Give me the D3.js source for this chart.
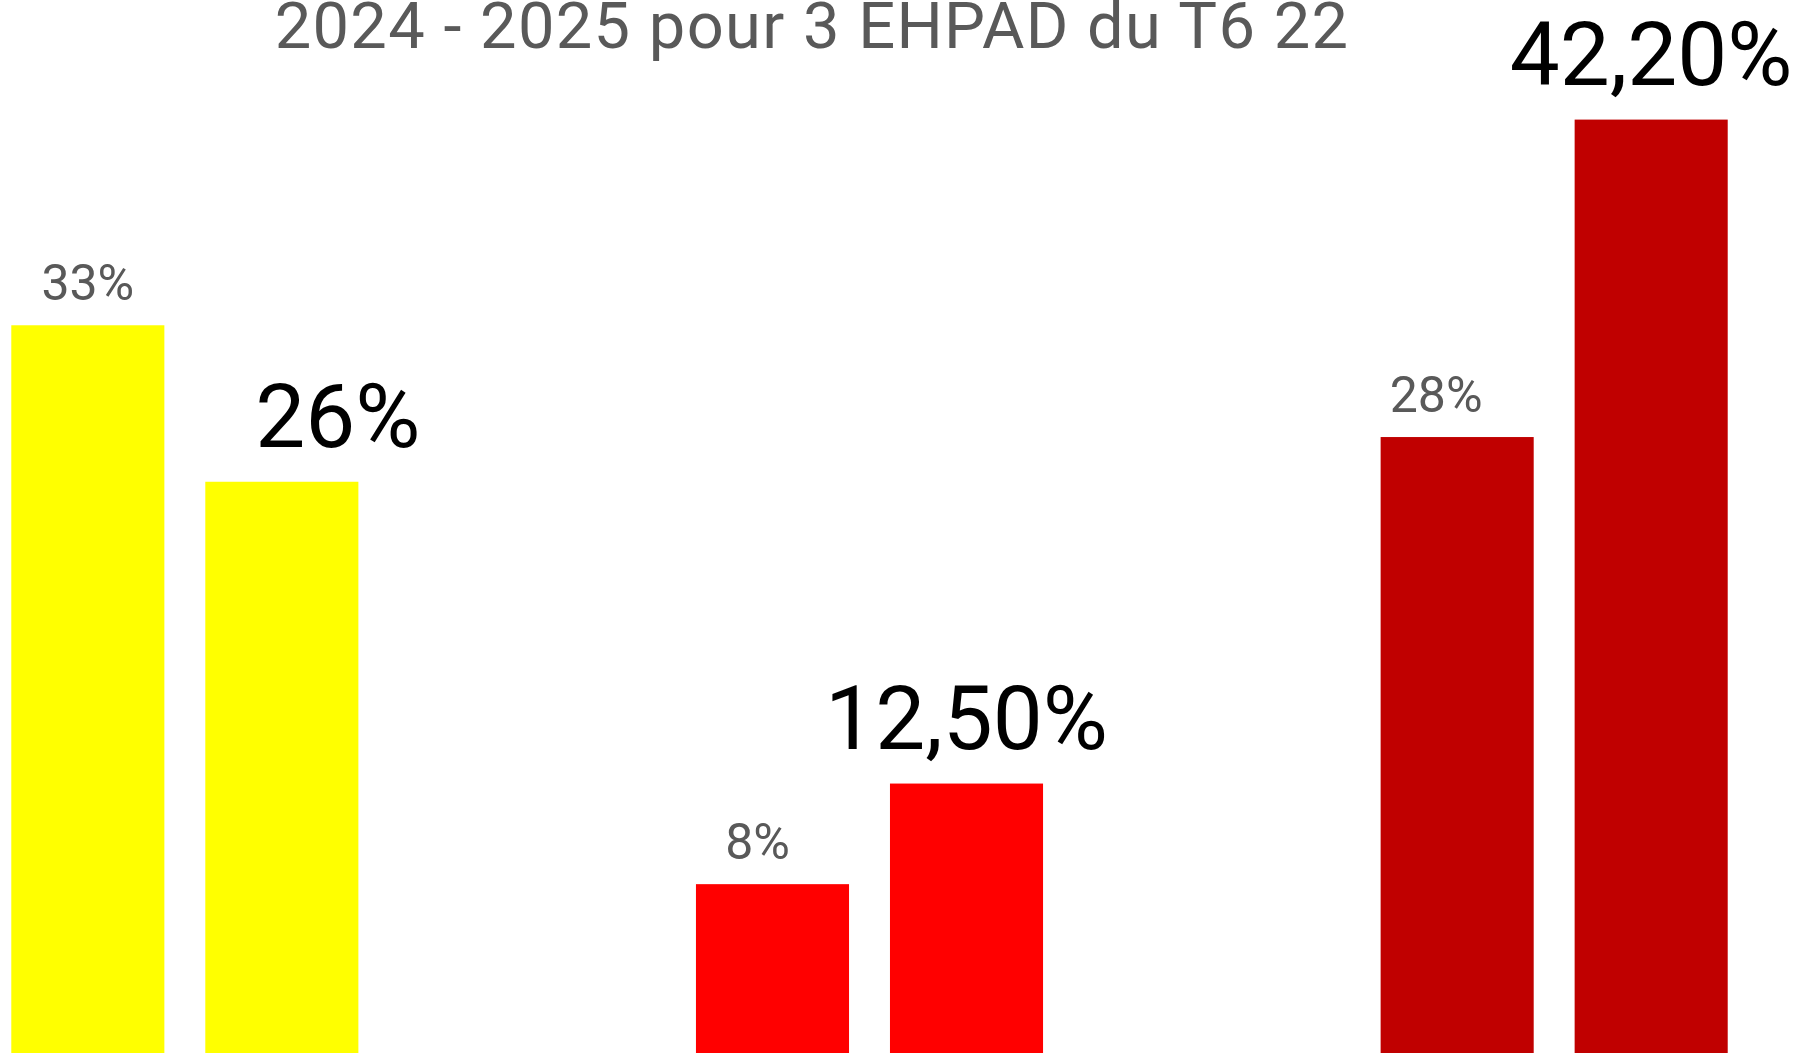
<!DOCTYPE html>
<html lang="fr">
<head>
<meta charset="utf-8">
<title>2024 - 2025 pour 3 EHPAD du T6 22</title>
<script src="https://d3js.org/d3.v7.min.js"></script>
<style>
  body { margin: 0; background: #fff; }
  svg { display: block; font-family: Roboto, "Open Sans", sans-serif; }
  .title { fill: #595959; font-size: 65px; letter-spacing: 1.3px; }
  .lab2024 { fill: #595959; font-size: 50px; }
  .lab2025 { fill: #000; font-size: 89px; }
</style>
</head>
<body>
<script>
// data
const ehpad = ["EHPAD 1", "EHPAD 2", "EHPAD 3"];
const years = ["2024", "2025"];
const values2024 = [33, 8, 28];
const values2025 = [26, 12.5, 42.2];
const labels2024 = ["33%", "8%", "28%"];
const labels2025 = ["26%", "12,50%", "42,20%"];
const ehpadColors = ["#FFFF00", "#FF0000", "#C00000"];
const titleText = "2024 - 2025 pour 3 EHPAD du T6 22";

const w = 1804, h = 1053;

// rows for the join
const rows = [];
ehpad.forEach((e, i) => {
  rows.push({ ehpad: e, year: "2024", value: values2024[i], label: labels2024[i], color: ehpadColors[i] });
  rows.push({ ehpad: e, year: "2025", value: values2025[i], label: labels2025[i], color: ehpadColors[i] });
});

// the picture is a crop of a wider chart, so the band range starts off-screen
const x0 = d3.scaleBand()
  .domain(ehpad)
  .range([-157.5, 1896.5]);

const x1 = d3.scaleBand()
  .domain(years)
  .range([0, x0.bandwidth()])
  .paddingInner(0.211)
  .paddingOuter(0.87);

const y = d3.scaleLinear()
  .domain([0, 45])
  .range([1063, 57]);

const svg = d3.select("body").append("svg")
  .attr("width", w)
  .attr("height", h);

// bars
svg.selectAll(".bar")
  .data(rows)
  .join("rect")
  .attr("class", "bar")
  .attr("x", d => x0(d.ehpad) + x1(d.year))
  .attr("y", d => y(d.value))
  .attr("width", x1.bandwidth())
  .attr("height", d => y(0) - y(d.value))
  .attr("fill", d => d.color);

// labels were dragged by hand in the original, small nudges
const nudge = { "26%": [56, 0], "8%": [-15, 0], "28%": [-21, 0] };

svg.selectAll(".lab")
  .data(rows)
  .join("text")
  .attr("class", d => "lab" + d.year)
  .attr("text-anchor", "middle")
  .attr("x", d => x0(d.ehpad) + x1(d.year) + x1.bandwidth() / 2 + (nudge[d.label] ? nudge[d.label][0] : 0))
  .attr("y", d => y(d.value) - (d.year == "2024" ? 25 : 35))
  .text(d => d.label);

// title (first line is cut off above the crop)
svg.append("text")
  .attr("class", "title")
  .attr("text-anchor", "middle")
  .attr("x", 812)
  .attr("y", 48)
  .text(titleText);
</script>
</body>
</html>
